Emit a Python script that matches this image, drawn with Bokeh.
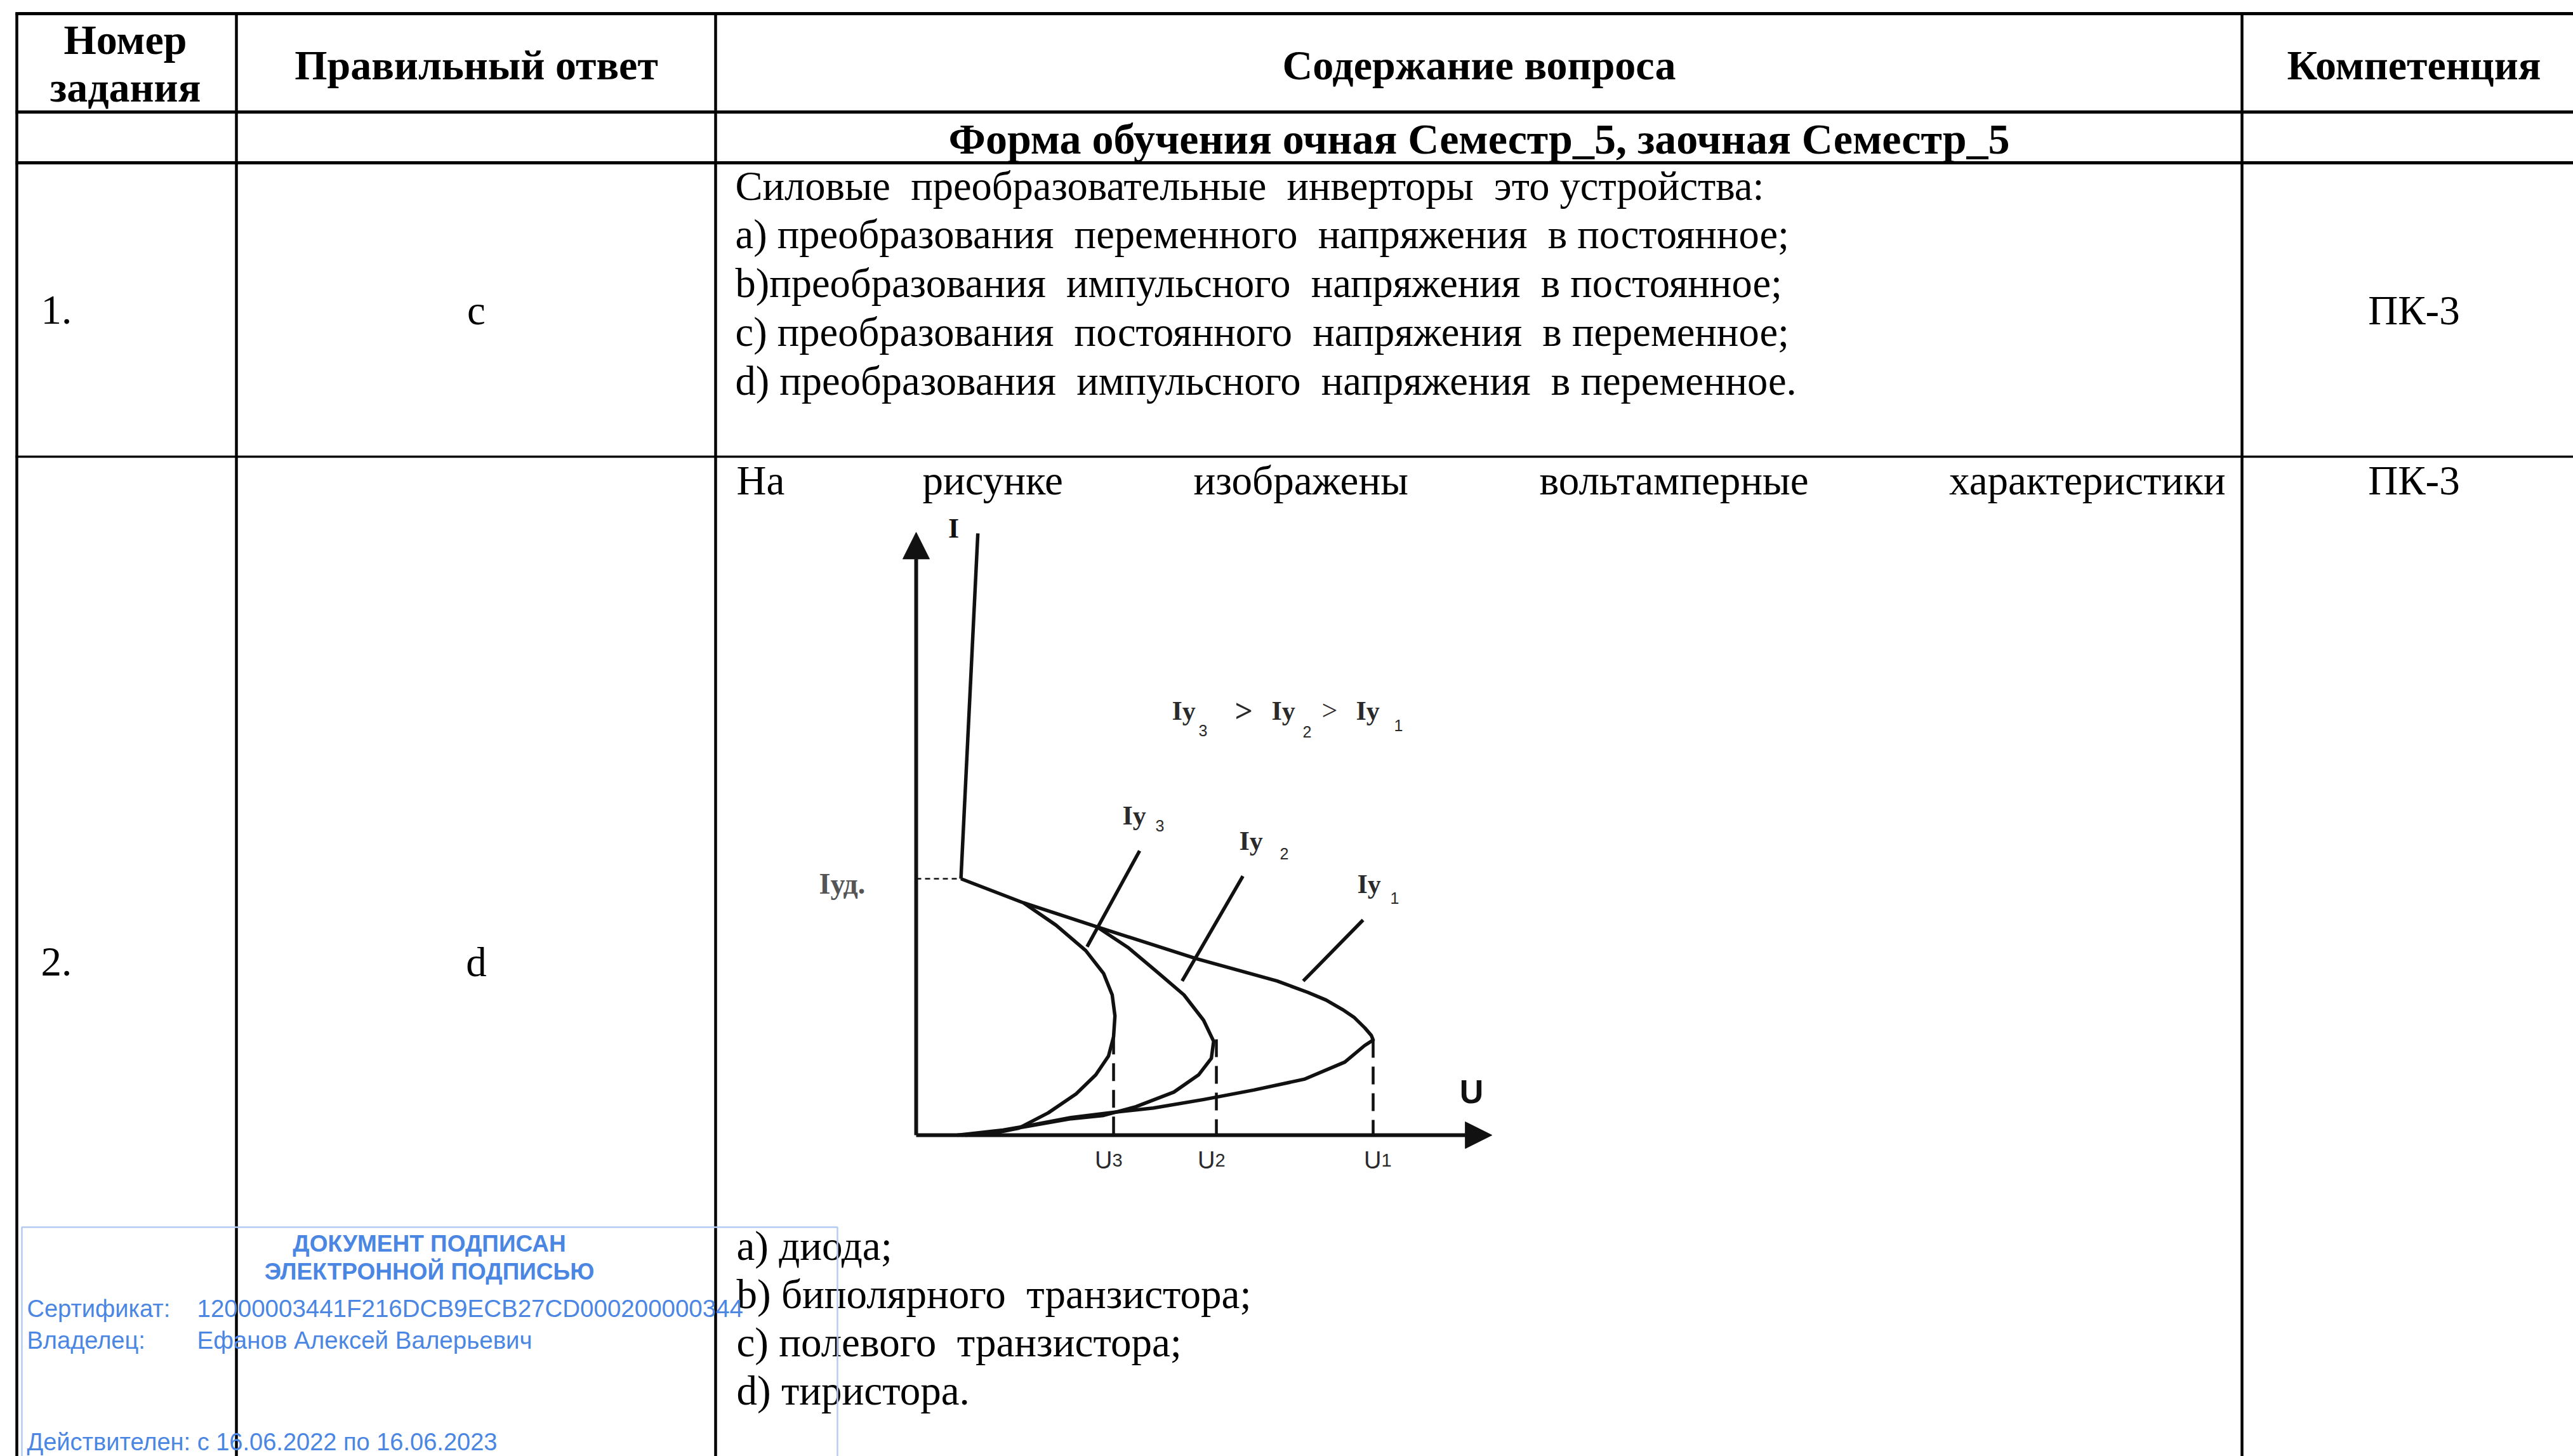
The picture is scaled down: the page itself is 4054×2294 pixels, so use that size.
from bokeh.plotting import figure
from bokeh.models import Range1d, Arrow, NormalHead
from bokeh.core.properties import value
from bokeh.embed import file_html
from bokeh.resources import INLINE

# ---------------- data ----------------
# Thyristor I-V characteristic (arbitrary units: U1 = 10, I_hold = 10)
U_hold, I_hold = 0.98, 10.0
on_U = [0.98, 1.35]
on_I = [10.0, 23.47]

c1_U = [0.98, 2.35, 3.96, 6.14, 7.90, 8.57, 8.97, 9.33, 9.58, 9.82, 9.96, 10.00,
        9.81, 9.38, 8.49, 7.39, 6.29, 5.19, 4.32, 3.39, 2.46, 1.90, 0.90]
c1_I = [10.00, 9.06, 8.12, 6.88, 6.01, 5.57, 5.27, 4.90, 4.60, 4.18, 3.89, 3.71,
        3.49, 2.85, 2.18, 1.76, 1.39, 1.06, 0.89, 0.69, 0.37, 0.20, 0.00]

c2_U = [3.96, 4.65, 5.31, 5.86, 6.29, 6.51, 6.46, 6.18, 5.64, 4.81, 4.10, 3.39, 2.46, 1.62, 1.00]
c2_I = [8.12, 7.30, 6.31, 5.47, 4.48, 3.66, 3.00, 2.35, 1.68, 1.11, 0.77, 0.64, 0.35, 0.10, 0.00]

c3_U = [2.35, 3.06, 3.71, 4.10, 4.29, 4.35, 4.32, 4.21, 3.93, 3.50, 2.89, 2.24, 1.62, 1.07]
c3_I = [9.06, 8.19, 7.20, 6.31, 5.47, 4.65, 3.84, 3.09, 2.35, 1.61, 0.87, 0.27, 0.05, 0.00]

U_break = [4.32, 6.57, 10.0]      # U3, U2, U1
I_break = [3.84, 3.74, 3.71]
U_names = ["3", "2", "1"]

lead_U0 = [4.89, 7.15, 9.78]
lead_I0 = [11.09, 10.10, 8.39]
lead_U1 = [3.74, 5.82, 8.47]
lead_I1 = [7.35, 6.01, 6.01]

U_axis_end = 12.6
I_axis_end = 23.51

# Table content
header = ["Номер", "задания", "Правильный ответ", "Содержание вопроса", "Компетенция"]
section = "Форма обучения очная Семестр_5, заочная Семестр_5"
q1_lines = [
    "Силовые\u00a0 преобразовательные\u00a0 инверторы\u00a0 это устройства:",
    "a) преобразования\u00a0 переменного\u00a0 напряжения\u00a0 в постоянное;",
    "b)преобразования\u00a0 импульсного\u00a0 напряжения\u00a0 в постоянное;",
    "c) преобразования\u00a0 постоянного\u00a0 напряжения\u00a0 в переменное;",
    "d) преобразования\u00a0 импульсного\u00a0 напряжения\u00a0 в переменное.",
]
q2_words = ["На", "рисунке", "изображены", "вольтамперные", "характеристики"]
q2_options = ["a) диода;", "b)\u00a0биполярного\u00a0 транзистора;", "c)\u00a0полевого\u00a0 транзистора;", "d) тиристора."]
numbers = ["1.", "2."]
answers = ["c", "d"]
competence = ["ПК-3", "ПК-3"]
stamp = ["ДОКУМЕНТ ПОДПИСАН", "ЭЛЕКТРОННОЙ ПОДПИСЬЮ"]
stamp_keys = ["Сертификат:", "Владелец:"]
stamp_vals = ["12000003441F216DCB9ECB27CD000200000344", "Ефанов Алексей Валерьевич"]
stamp_valid = "Действителен: с 16.06.2022 по 16.06.2023"

# ---------------- page figure ----------------
W, H = 4054, 2294
p = figure(width=W, height=H, x_range=Range1d(0, W), y_range=Range1d(H, 0),
           output_backend="svg", toolbar_location=None, min_border=0,
           x_axis_type=None, y_axis_type=None)
p.grid.visible = False
p.outline_line_color = None
p.background_fill_color = "white"
p.border_fill_color = "white"

# chart coordinate system mapped onto page pixels
X0, Y0, SX, SY = 1443.0, 1788.0, 72.0, 40.4
p.extra_x_ranges = {"u": Range1d((0 - X0) / SX, (W - X0) / SX)}
p.extra_y_ranges = {"i": Range1d((Y0 - H) / SY, (Y0 - 0) / SY)}

SERIF = value("Liberation Serif")
SANS = value("Liberation Sans")

def txt(x, y, t, size, font=SERIF, bold=False, align="left", color="black"):
    p.text(x=x, y=y, text=t, text_font=font, text_font_size=f"{size}px",
           text_font_style="bold" if bold else "normal", text_align=align,
           text_baseline="alphabetic", text_color=color)

# ---- table grid ----
vx = [26, 372, 1127, 3532]
p.segment(x0=vx, y0=[19] * 4, x1=vx, y1=[2300] * 4, line_color="black", line_width=4.5)
hy = [21, 176, 256]
p.segment(x0=[24] * 3, y0=hy, x1=[4060] * 3, y1=hy, line_color="black", line_width=5)
p.segment(x0=[24], y0=[719], x1=[4060], y1=[719], line_color="black", line_width=3.5)

# ---- header ----
txt([197, 197], [62, 137], header[:2], 66, bold=True, align="center")
txt([750, 2330, 3803], [102, 102, 102], header[2:], 66, bold=True, align="center")
txt([2330], [218], [section], 68, bold=True, align="center")

# ---- row 1 ----
txt([1158] * 5, [293, 369, 446, 523, 600], q1_lines, 64.5)
txt([64, 64], [488, 1515], numbers, 65)
txt([750, 750], [488, 1515], answers, 65, align="center")
txt([3803, 3803], [488, 756], competence, 65, align="center")

# ---- row 2 ----
txt([1160, 1453, 1880, 2425], [756] * 4, q2_words[:4], 65)
txt([3506], [756], q2_words[4:], 65, align="right")
txt([1160] * 4, [1962, 2038, 2114, 2190], q2_options, 65)

# ---- chart ----
CH = dict(x_range_name="u", y_range_name="i")
ink = "#111111"
LW = 5.5
p.line(c1_U, c1_I, line_color=ink, line_width=LW, line_join="round", **CH)
p.line(c2_U, c2_I, line_color=ink, line_width=LW, line_join="round", **CH)
p.line(c3_U, c3_I, line_color=ink, line_width=LW, line_join="round", **CH)
p.line(on_U, on_I, line_color=ink, line_width=LW, **CH)
p.segment(x0=[0], y0=[I_hold], x1=[U_hold], y1=[I_hold], line_color=ink, line_width=2.5,
          line_dash="8 6", **CH)
p.segment(x0=U_break, y0=I_break, x1=U_break, y1=[0, 0, 0], line_color=ink, line_width=4.5,
          line_dash="28 14", **CH)
p.segment(x0=lead_U0, y0=lead_I0, x1=lead_U1, y1=lead_I1, line_color=ink, line_width=LW, **CH)

p.add_layout(Arrow(end=NormalHead(size=42, fill_color=ink, line_color=ink, line_width=1),
                   x_start=0, y_start=0, x_end=0, y_end=I_axis_end, line_color=ink,
                   line_width=6, **CH))
p.add_layout(Arrow(end=NormalHead(size=42, fill_color=ink, line_color=ink, line_width=1),
                   x_start=0, y_start=0, x_end=U_axis_end, y_end=0, line_color=ink,
                   line_width=6, **CH))

gray = "#2a2a2a"
txt([1502], [832], ["I"], 44, bold=True, align="center", color=ink)
txt([2318], [1719], ["U"], 52, font=SANS, bold=True, align="center", color=ink)
txt([1290], [1392], ["Iуд."], 46, bold=True, color="#555555")

# U tick labels
ulab_x = [1748, 1910, 2172]
txt([x + 4 for x in ulab_x], [1827] * 3, ["U"] * 3, 38, font=SANS, align="right", color=gray)
txt([x + 4 for x in ulab_x], [1827] * 3, U_names, 29, font=SANS, color=gray)

# Iy labels
txt([1768, 1952, 2138], [1284, 1324, 1392], ["Iy", "Iy", "Iy"], 42, bold=True, color=gray)
txt([1820, 2016, 2190], [1300, 1344, 1414], ["3", "2", "1"], 25, font=SANS, color=gray)
# inequality
txt([1846, 2003, 2136], [1119] * 3, ["Iy", "Iy", "Iy"], 42, bold=True, color=gray)
txt([1888, 2052, 2196], [1150, 1152, 1142], ["3", "2", "1"], 25, font=SANS, color=gray)
txt([1945], [1119], [">"], 50, bold=True, color=gray)
txt([2082], [1119], [">"], 44, color=gray)

# ---- signature stamp ----
blue = "#4a86e2"
p.quad(left=[34], right=[1319], top=[1933], bottom=[2400], fill_color=None,
       line_color="#b4cbf2", line_width=2.5)
txt([676, 676], [1959, 2003], stamp, 37, font=SANS, bold=True, align="center", color=blue)
txt([42, 42], [2061, 2111], stamp_keys, 38, font=SANS, color=blue)
txt([310, 310], [2061, 2111], stamp_vals, 38.5, font=SANS, color=blue)
txt([42], [2271], [stamp_valid], 38, font=SANS, color=blue)

open("out.html", "w").write(file_html(p, INLINE))
